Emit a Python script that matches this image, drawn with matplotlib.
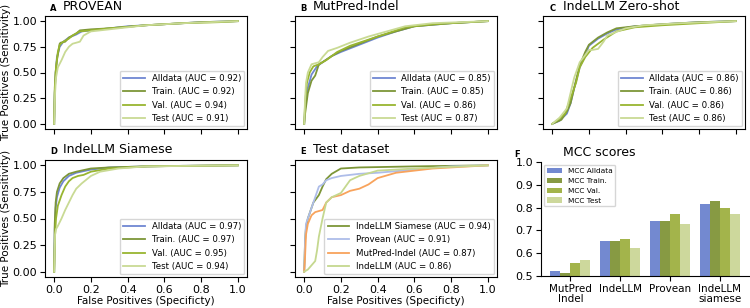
import numpy as np
from matplotlib import pyplot as plt

# ROC curves: (false positive rate, true positive rate)
provean_all_fpr = [0, 0.003, 0.008, 0.015, 0.03, 0.05, 0.08, 0.12, 0.15, 0.2, 0.3, 0.4, 0.5, 0.6, 0.8, 1.0]
provean_all_tpr = [0, 0.3, 0.5, 0.65, 0.75, 0.8, 0.84, 0.87, 0.9, 0.91, 0.93, 0.95, 0.96, 0.97, 0.99, 1.0]
provean_train_fpr = [0, 0.003, 0.008, 0.015, 0.03, 0.035, 0.06, 0.08, 0.12, 0.14, 0.2, 0.3, 0.5, 0.6, 0.8, 1.0]
provean_train_tpr = [0, 0.3, 0.5, 0.62, 0.78, 0.79, 0.8, 0.84, 0.88, 0.91, 0.92, 0.93, 0.96, 0.97, 0.99, 1.0]
provean_val_fpr = [0, 0.003, 0.01, 0.02, 0.03, 0.05, 0.08, 0.1, 0.14, 0.2, 0.3, 0.5, 0.7, 0.9, 1.0]
provean_val_tpr = [0, 0.35, 0.55, 0.7, 0.77, 0.8, 0.83, 0.86, 0.9, 0.91, 0.93, 0.96, 0.98, 0.99, 1.0]
provean_test_fpr = [0, 0.005, 0.01, 0.02, 0.04, 0.06, 0.08, 0.1, 0.12, 0.14, 0.16, 0.2, 0.3, 0.5, 0.7, 1.0]
provean_test_tpr = [0, 0.3, 0.45, 0.55, 0.62, 0.7, 0.75, 0.78, 0.79, 0.8, 0.86, 0.9, 0.92, 0.96, 0.98, 1.0]

mutpred_all_fpr = [0, 0.005, 0.02, 0.04, 0.07, 0.1, 0.15, 0.2, 0.3, 0.4, 0.5, 0.6, 0.8, 1.0]
mutpred_all_tpr = [0, 0.15, 0.35, 0.48, 0.56, 0.6, 0.66, 0.7, 0.77, 0.84, 0.9, 0.95, 0.98, 1.0]
mutpred_train_fpr = [0, 0.005, 0.02, 0.04, 0.06, 0.08, 0.1, 0.15, 0.2, 0.3, 0.4, 0.5, 0.6, 0.8, 1.0]
mutpred_train_tpr = [0, 0.1, 0.3, 0.42, 0.47, 0.58, 0.6, 0.66, 0.71, 0.78, 0.85, 0.9, 0.95, 0.98, 1.0]
mutpred_val_fpr = [0, 0.005, 0.015, 0.03, 0.05, 0.08, 0.12, 0.18, 0.25, 0.35, 0.45, 0.55, 0.7, 1.0]
mutpred_val_tpr = [0, 0.2, 0.4, 0.5, 0.56, 0.58, 0.62, 0.7, 0.76, 0.82, 0.88, 0.94, 0.97, 1.0]
mutpred_test_fpr = [0, 0.005, 0.01, 0.02, 0.04, 0.08, 0.1, 0.13, 0.18, 0.25, 0.35, 0.45, 0.55, 0.7, 1.0]
mutpred_test_tpr = [0, 0.25, 0.4, 0.5, 0.58, 0.6, 0.65, 0.71, 0.74, 0.79, 0.85, 0.9, 0.95, 0.98, 1.0]

zero_all_fpr = [0, 0.04, 0.08, 0.1, 0.12, 0.15, 0.18, 0.2, 0.25, 0.3, 0.35, 0.45, 0.6, 0.8, 1.0]
zero_all_tpr = [0, 0.03, 0.1, 0.2, 0.35, 0.55, 0.67, 0.76, 0.83, 0.88, 0.92, 0.95, 0.97, 0.99, 1.0]
zero_train_fpr = [0, 0.05, 0.08, 0.1, 0.12, 0.15, 0.18, 0.2, 0.25, 0.3, 0.35, 0.45, 0.6, 0.8, 1.0]
zero_train_tpr = [0, 0.04, 0.12, 0.2, 0.35, 0.57, 0.7, 0.77, 0.84, 0.89, 0.93, 0.95, 0.97, 0.99, 1.0]
zero_val_fpr = [0, 0.04, 0.07, 0.1, 0.13, 0.15, 0.18, 0.22, 0.28, 0.35, 0.45, 0.6, 0.8, 1.0]
zero_val_tpr = [0, 0.05, 0.1, 0.25, 0.4, 0.55, 0.65, 0.74, 0.82, 0.9, 0.94, 0.96, 0.98, 1.0]
zero_test_fpr = [0, 0.04, 0.08, 0.1, 0.12, 0.15, 0.18, 0.2, 0.22, 0.25, 0.28, 0.3, 0.4, 0.5, 0.7, 1.0]
zero_test_tpr = [0, 0.06, 0.15, 0.3, 0.45, 0.6, 0.67, 0.72, 0.72, 0.73, 0.8, 0.86, 0.93, 0.96, 0.98, 1.0]

siam_all_fpr = [0, 0.003, 0.008, 0.015, 0.03, 0.05, 0.08, 0.12, 0.2, 0.3, 0.5, 0.7, 1.0]
siam_all_tpr = [0, 0.4, 0.6, 0.7, 0.79, 0.85, 0.9, 0.93, 0.96, 0.98, 0.99, 0.995, 1.0]
siam_train_fpr = [0, 0.003, 0.008, 0.015, 0.03, 0.05, 0.08, 0.12, 0.2, 0.3, 0.5, 0.7, 1.0]
siam_train_tpr = [0, 0.45, 0.65, 0.75, 0.83, 0.88, 0.92, 0.94, 0.97, 0.98, 0.99, 0.995, 1.0]
siam_val_fpr = [0, 0.005, 0.01, 0.02, 0.04, 0.06, 0.08, 0.1, 0.13, 0.16, 0.2, 0.3, 0.5, 1.0]
siam_val_tpr = [0, 0.35, 0.5, 0.62, 0.72, 0.8, 0.85, 0.88, 0.9, 0.91, 0.94, 0.97, 0.99, 1.0]
siam_test_fpr = [0, 0.005, 0.01, 0.02, 0.04, 0.06, 0.08, 0.1, 0.12, 0.15, 0.2, 0.25, 0.35, 0.5, 1.0]
siam_test_tpr = [0, 0.35, 0.4, 0.43, 0.5, 0.58, 0.65, 0.72, 0.78, 0.83, 0.9, 0.94, 0.97, 0.99, 1.0]

test_siam_fpr = [0, 0.005, 0.01, 0.02, 0.05, 0.08, 0.1, 0.12, 0.15, 0.18, 0.2, 0.3, 0.6, 1.0]
test_siam_tpr = [0, 0.3, 0.42, 0.5, 0.65, 0.72, 0.8, 0.87, 0.92, 0.95, 0.97, 0.98, 0.99, 1.0]
test_provean_fpr = [0, 0.005, 0.01, 0.03, 0.05, 0.08, 0.1, 0.12, 0.15, 0.2, 0.3, 0.4, 0.6, 0.8, 1.0]
test_provean_tpr = [0, 0.3, 0.45, 0.55, 0.65, 0.8, 0.82, 0.86, 0.88, 0.9, 0.92, 0.93, 0.96, 0.99, 1.0]
test_mutpred_fpr = [0, 0.005, 0.01, 0.02, 0.04, 0.06, 0.1, 0.12, 0.15, 0.2, 0.25, 0.3, 0.35, 0.4, 0.5, 0.7, 1.0]
test_mutpred_tpr = [0, 0.15, 0.35, 0.45, 0.53, 0.56, 0.58, 0.65, 0.7, 0.72, 0.76, 0.78, 0.82, 0.88, 0.93, 0.97, 1.0]
test_indellm_fpr = [0, 0.02, 0.04, 0.06, 0.07, 0.08, 0.1, 0.12, 0.15, 0.2, 0.25, 0.3, 0.4, 0.6, 1.0]
test_indellm_tpr = [0, 0.02, 0.06, 0.1, 0.2, 0.33, 0.5, 0.65, 0.7, 0.74, 0.86, 0.9, 0.95, 0.97, 1.0]

split_names = ['Alldata', 'Train.', 'Val.', 'Test']
provean_auc = [0.92, 0.92, 0.94, 0.91]
mutpred_auc = [0.85, 0.85, 0.86, 0.87]
zero_auc = [0.86, 0.86, 0.86, 0.86]
siam_auc = [0.97, 0.97, 0.95, 0.94]
test_names = ['IndeLLM Siamese', 'Provean', 'MutPred-Indel', 'IndeLLM']
test_auc = [0.94, 0.91, 0.87, 0.86]

mcc_groups = ['MutPred\nIndel', 'IndeLLM', 'Provean', 'IndeLLM\nsiamese']
mcc_alldata = [0.521, 0.652, 0.740, 0.817]
mcc_train = [0.513, 0.654, 0.740, 0.828]
mcc_val = [0.558, 0.662, 0.772, 0.798]
mcc_test = [0.570, 0.623, 0.728, 0.772]

split_colors = ['#6f87d2', '#7d9638', '#98b530', '#c9da94']
test_colors = ['#7d9638', '#aebde9', '#f8a35c', '#c5d88f']
bar_colors = ['#7389d0', '#879a43', '#a3b44b', '#cdd89c']

plt.rcParams.update({'font.size': 7.5, 'xtick.labelsize': 8, 'ytick.labelsize': 8,
                     'xtick.major.pad': 2, 'ytick.major.pad': 2, 'axes.labelpad': 2})
fig = plt.figure(figsize=(7.5, 3.08), dpi=100)

W, H = 750, 308
def axes_px(left, top, right, bottom):
    return fig.add_axes([left / W, 1 - bottom / H, (right - left) / W, (bottom - top) / H])

def label_panel(ax, letter, title, dx_letter, dx_title):
    w = ax.get_position().width * W
    ax.text(dx_letter / w, 1.03, letter, transform=ax.transAxes, fontsize=6,
            fontweight='bold', va='bottom')
    ax.text(dx_title / w, 1.03, title, transform=ax.transAxes, fontsize=9, va='bottom')

def roc_panel(ax, curves, names, aucs, colors):
    for (fpr, tpr), name, auc, c in zip(curves, names, aucs, colors):
        ax.plot(fpr, tpr, color=c, lw=1.3, label='%s (AUC = %.2f)' % (name, auc))
    ax.set_xlim(-0.05, 1.05)
    ax.set_ylim(-0.05, 1.05)
    ax.set_yticks([0, 0.25, 0.5, 0.75, 1.0])
    ax.set_xticks([0, 0.2, 0.4, 0.6, 0.8, 1.0])
    ax.legend(loc='lower right', fontsize=6.2, borderaxespad=0.3, handlelength=2.5)

axA = axes_px(45, 16, 247, 129)
axB = axes_px(295, 16, 497, 129)
axC = axes_px(543, 16, 745, 129)
axD = axes_px(45, 160, 247, 277)
axE = axes_px(295, 160, 497, 277)
axF = axes_px(541, 162, 749, 276)

roc_panel(axA, [(provean_all_fpr, provean_all_tpr), (provean_train_fpr, provean_train_tpr),
                (provean_val_fpr, provean_val_tpr), (provean_test_fpr, provean_test_tpr)],
          split_names, provean_auc, split_colors)
roc_panel(axB, [(mutpred_all_fpr, mutpred_all_tpr), (mutpred_train_fpr, mutpred_train_tpr),
                (mutpred_val_fpr, mutpred_val_tpr), (mutpred_test_fpr, mutpred_test_tpr)],
          split_names, mutpred_auc, split_colors)
roc_panel(axC, [(zero_all_fpr, zero_all_tpr), (zero_train_fpr, zero_train_tpr),
                (zero_val_fpr, zero_val_tpr), (zero_test_fpr, zero_test_tpr)],
          split_names, zero_auc, split_colors)
roc_panel(axD, [(siam_all_fpr, siam_all_tpr), (siam_train_fpr, siam_train_tpr),
                (siam_val_fpr, siam_val_tpr), (siam_test_fpr, siam_test_tpr)],
          split_names, siam_auc, split_colors)
roc_panel(axE, [(test_siam_fpr, test_siam_tpr), (test_provean_fpr, test_provean_tpr),
                (test_mutpred_fpr, test_mutpred_tpr), (test_indellm_fpr, test_indellm_tpr)],
          test_names, test_auc, test_colors)

for ax in [axA, axB, axC]:
    ax.set_xticklabels([])
for ax in [axB, axC, axE]:
    ax.set_yticklabels([])
for ax in [axA, axD]:
    ax.set_ylabel('True Positives (Sensitivity)', labelpad=1)
for ax in [axD, axE]:
    ax.set_xlabel('False Positives (Specificty)', labelpad=1)

label_panel(axA, 'A', 'PROVEAN', 5, 18)
label_panel(axB, 'B', 'MutPred-Indel', 5, 18)
label_panel(axC, 'C', 'IndeLLM Zero-shot', 7, 20)
label_panel(axD, 'D', 'IndeLLM Siamese', 5, 18)
label_panel(axE, 'E', 'Test dataset', 5, 18)

x = np.arange(len(mcc_groups))
for i, (vals, name) in enumerate(zip([mcc_alldata, mcc_train, mcc_val, mcc_test],
                                     ['MCC Alldata', 'MCC Train.', 'MCC Val.', 'MCC Test'])):
    axF.bar(x + (i - 1.5) * 0.2, vals, width=0.2, color=bar_colors[i], label=name)
axF.set_ylim(0.5, 1.0)
axF.set_xticks(x)
axF.set_xticklabels(mcc_groups, linespacing=1.0)
axF.tick_params(axis='x', labelsize=7.5)
axF.spines['top'].set_visible(False)
axF.spines['right'].set_visible(False)
axF.legend(loc='upper left', fontsize=5.3, borderaxespad=0.4)
label_panel(axF, 'F', 'MCC scores', -27, 22)

plt.savefig('out.png', dpi=100)
